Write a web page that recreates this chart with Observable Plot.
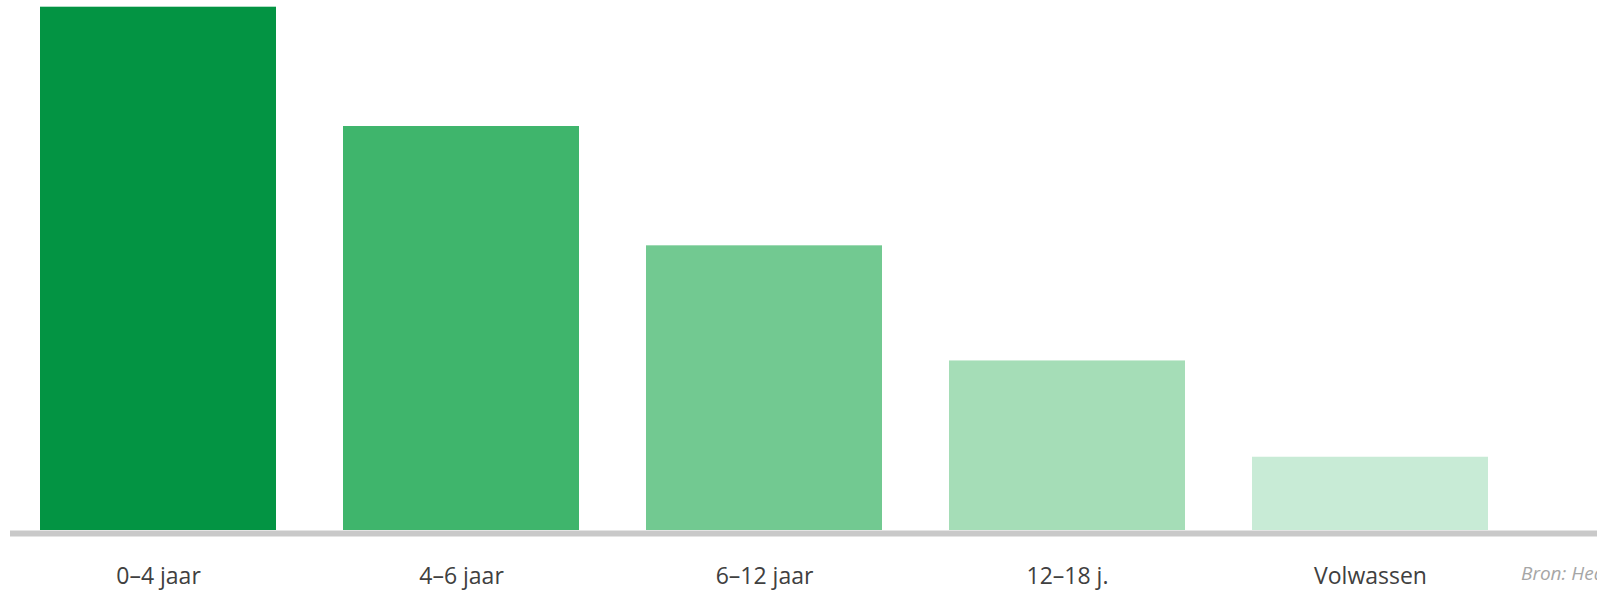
<!DOCTYPE html>
<html>
<head>
<meta charset="utf-8">
<script src="https://cdn.jsdelivr.net/npm/d3@7"></script>
<script src="https://cdn.jsdelivr.net/npm/@observablehq/plot@0.6"></script>
<style>
  html, body { margin: 0; padding: 0; background: #fff; overflow: hidden; }
  #wrap { position: relative; width: 1597px; height: 591px; }
  #caption { position: absolute; left: 1521px; top: 564px; line-height: 1; font-family: "Open Sans", sans-serif; font-style: italic; font-size: 19px; color: #a6a6a6; white-space: nowrap; }
</style>
</head>
<body>
<div id="wrap"><div id="caption">Bron: Health</div></div>
<script>
const categories = ["0–4 jaar", "4–6 jaar", "6–12 jaar", "12–18 j.", "Volwassen"];
const values = [100, 77.2, 54.4, 32.4, 14.0];
const colors = ["#039443", "#3fb56c", "#72c991", "#a5ddb7", "#c8ebd6"];

const data = categories.map((c, i) => ({cat: c, value: values[i], color: colors[i]}));

const chart = Plot.plot({
  width: 1597,
  height: 591,
  marginLeft: 10,
  marginRight: 0,
  marginTop: 6.7,
  marginBottom: 61,
  style: {fontFamily: "Open Sans, sans-serif", background: "#fff"},
  x: {domain: categories, range: [5.6, 1522.6], paddingInner: 0.22, paddingOuter: 0.11, label: null},
  y: {domain: [0, 100], range: [530, 6.7], axis: null},
  marks: [
    Plot.barY(data, {x: "cat", y: "value", fill: "color"}),
    Plot.ruleY([0], {stroke: "#c9c9c9", strokeWidth: 6, dy: 3}),
    Plot.axisX({tickSize: 0, tickPadding: 37.5, fontSize: 23, fill: "#404040", label: null})
  ]
});
document.getElementById("wrap").prepend(chart);
</script>
</body>
</html>
